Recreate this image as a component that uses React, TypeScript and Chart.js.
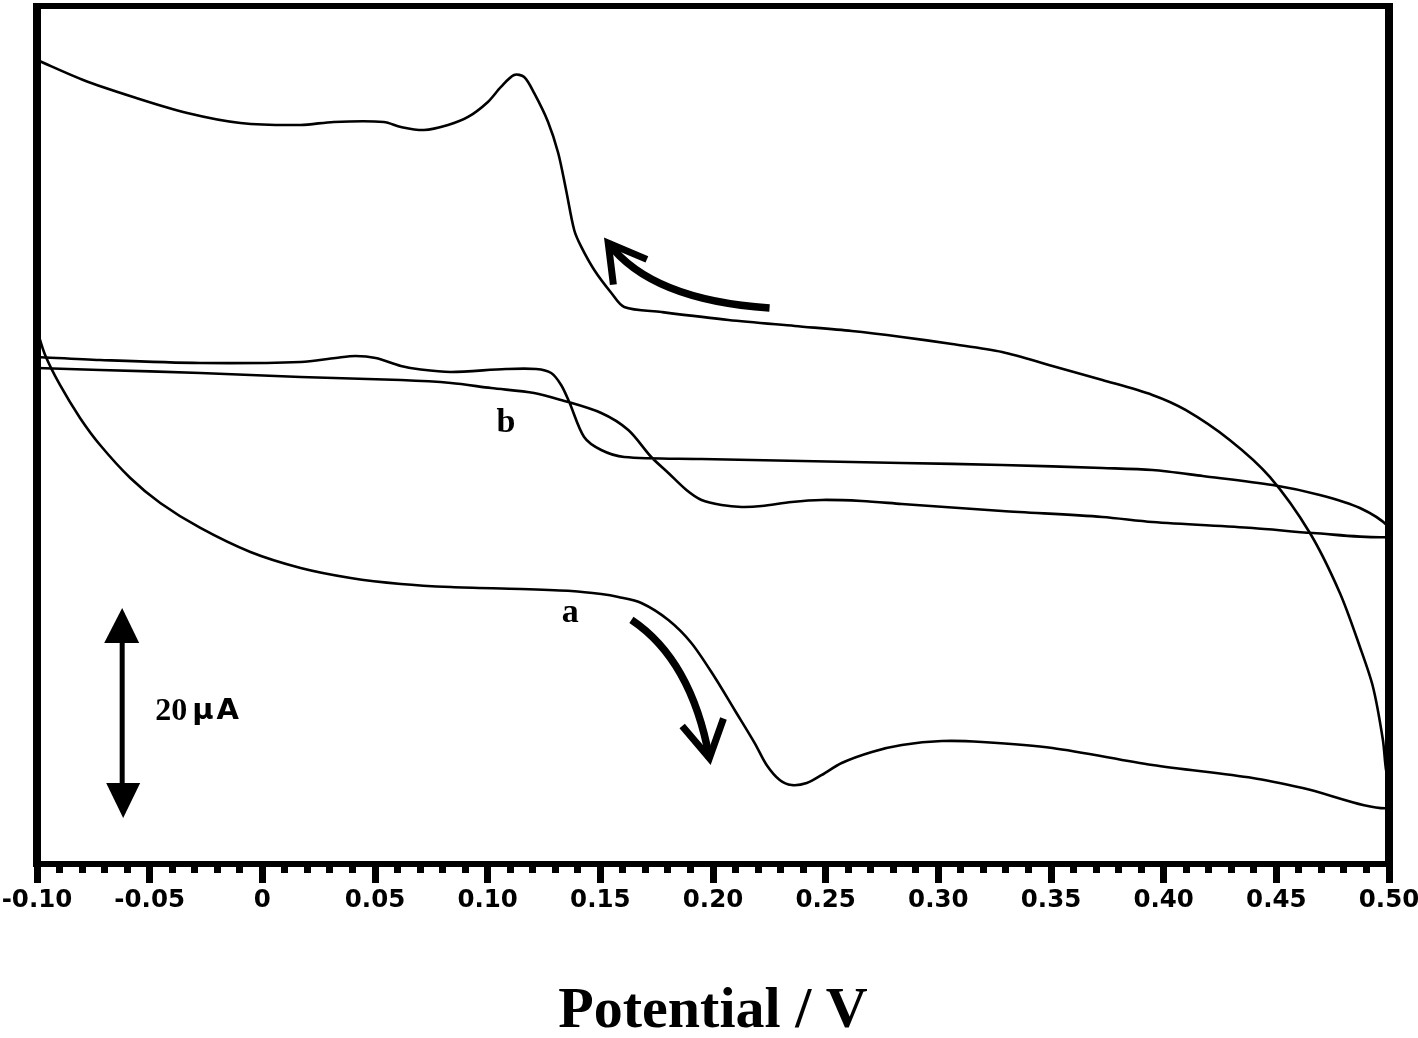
import React, { useEffect, useRef } from 'react';
import { Chart, registerables } from 'chart.js';

Chart.register(...registerables);

// ---- axis definitions ----
const xMin = -0.1;
const xMax = 0.5;
const yMin = -0.19; // µA (arbitrary offset, no y labels in the figure)
const yMax = 81.52;
const tickLabels = ['-0.10', '-0.05', '0', '0.05', '0.10', '0.15', '0.20', '0.25', '0.30', '0.35', '0.40', '0.45', '0.50'];
const axisTitle = 'Potential / V';

// ---- curve a (forward scan then reverse scan) ----
const curveAPotential = [
  -0.100, -0.0964, -0.0898, -0.0809, -0.0720, -0.0586, -0.0453, -0.0275, -0.0053, 0.0170, 0.0392, 0.0615, 0.0837,
  0.1148, 0.1371, 0.1504, 0.1580, 0.1682, 0.1802, 0.1904, 0.2007, 0.2096, 0.2185, 0.2238, 0.2296, 0.2349, 0.2416,
  0.2483, 0.2571, 0.2705, 0.2838, 0.3016, 0.3194, 0.3506, 0.3950, 0.4395, 0.4617, 0.500,
  0.500, 0.4987, 0.4973, 0.4929, 0.4871, 0.4782, 0.4649, 0.4471, 0.4293, 0.4097, 0.3950, 0.3728, 0.3506, 0.3283,
  0.3061, 0.2838, 0.2616, 0.2363, 0.2069, 0.1771, 0.1606, 0.1549, 0.1473, 0.1415, 0.1384, 0.1348, 0.1313, 0.1268, 0.1206,
  0.1162, 0.1117, 0.1059, 0.1001, 0.0913, 0.0824, 0.0717, 0.0615, 0.0539, 0.0317, 0.0170, -0.0097, -0.0333,
  -0.0573, -0.0795, -0.100,
];
const curveACurrent = [
  50.67, 48.29, 45.43, 42.29, 39.71, 36.57, 34.19, 31.81, 29.52, 28.0, 27.05, 26.48, 26.19,
  26.0, 25.81, 25.52, 25.24, 24.67, 23.05, 20.86, 17.62, 14.48, 11.33, 9.24, 7.81, 7.33, 7.52,
  8.29, 9.43, 10.48, 11.14, 11.52, 11.43, 10.86, 9.24, 8.0, 7.05, 5.14,
  8.0, 8.76, 11.62, 16.67, 20.48, 25.62, 31.33, 36.67, 40.19, 43.05, 44.48, 45.90, 47.24, 48.57,
  49.33, 50.0, 50.57, 51.05, 51.62, 52.38, 52.86, 54.19, 56.38, 58.6, 60.19, 64.0, 67.52, 70.48, 73.24,
  74.76, 74.95, 73.81, 72.38, 70.95, 70.19, 69.71, 70.0, 70.48, 70.48, 70.19, 70.38, 71.33,
  72.86, 74.48, 76.38,
];

// ---- curve b (forward scan then reverse scan) ----
const curveBPotential = [
  -0.100, -0.0720, -0.0275, 0.0170, 0.0615, 0.0837, 0.1015, 0.1206, 0.1326, 0.1504, 0.1624, 0.1726, 0.1802, 0.1882,
  0.1949, 0.2038, 0.2127, 0.2216, 0.2349, 0.2483, 0.2660, 0.2838, 0.3283, 0.3728, 0.3950, 0.4395, 0.4662, 0.500,
  0.500, 0.4871, 0.4693, 0.4484, 0.4173, 0.3950, 0.3728, 0.3283, 0.2838, 0.2394, 0.1949, 0.1606, 0.1504, 0.1428,
  0.1362, 0.1326, 0.1282, 0.1215, 0.1081, 0.0837, 0.0703, 0.0615, 0.0503, 0.0414, 0.0325, 0.0170, -0.0275, -0.0720,
  -0.100,
];
const curveBCurrent = [
  47.05, 46.86, 46.57, 46.19, 45.90, 45.62, 45.14, 44.67, 44.0, 42.76, 41.14, 38.57, 37.05, 35.43,
  34.48, 34.0, 33.81, 33.90, 34.29, 34.48, 34.38, 34.10, 33.43, 32.86, 32.38, 31.81, 31.33, 30.95,
  31.90, 33.71, 34.95, 35.90, 36.76, 37.33, 37.52, 37.81, 38.0, 38.19, 38.38, 38.57, 39.24, 40.48,
  43.81, 45.43, 46.57, 46.95, 46.95, 46.67, 46.9, 47.24, 48.0, 48.19, 48.0, 47.62, 47.52, 47.81,
  48.10,
];

// ---- annotations (data coordinates) ----
const curveLabels = [
  { text: 'a', x: 0.1366, y: 22.86 },
  { text: 'b', x: 0.1081, y: 40.95 },
];
const scanArrows = [
  { x0: 0.1638, y0: 23.05, cx: 0.1904, cy: 19.24, x1: 0.1984, y1: 9.9 },
  { x0: 0.2251, y0: 52.76, cx: 0.1726, cy: 53.52, x1: 0.1535, y1: 58.95 },
];
const scaleBar = { x: -0.0622, from: 4.2, to: 24.2, textY: 13.52, value: '20', unit: 'μA' };

const tickValues: number[] = [];
for (let i = 0; i <= 60; i++) tickValues.push(Number((xMin + i * 0.01).toFixed(2)));

const toPoints = (xs: number[], ys: number[]) => xs.map((x, i) => ({ x, y: ys[i] }));

const overlayPlugin = {
  id: 'overlay',
  beforeDraw(chart: any) {
    const ctx = chart.ctx;
    ctx.save();
    ctx.fillStyle = '#ffffff';
    ctx.fillRect(0, 0, chart.width, chart.height);
    ctx.restore();
  },
  afterDraw(chart: any) {
    const { ctx, chartArea, scales } = chart;
    const { left, right, top, bottom } = chartArea;
    const xs = scales.x;
    const ys = scales.y;
    ctx.save();
    ctx.fillStyle = '#000';
    ctx.strokeStyle = '#000';
    // frame
    ctx.fillRect(left - 4, top - 3, right - left + 8, 6);
    ctx.fillRect(left - 4, top - 3, 8, bottom - top + 6);
    ctx.fillRect(right - 4, top - 3, 8, bottom - top + 6);
    ctx.fillRect(left - 4, bottom - 3, right - left + 8, 6);
    // tick marks
    xs.ticks.forEach((t: any) => {
      const px = xs.getPixelForValue(t.value);
      const k = Math.round((t.value - xMin) * 100);
      const major = k % 5 === 0;
      ctx.fillRect(Math.round(px - 3.5), bottom + 3, 7, major ? 16 : 6);
    });

    // scale bar (double arrow)
    const bx = xs.getPixelForValue(scaleBar.x);
    const by0 = ys.getPixelForValue(scaleBar.to);
    const by1 = ys.getPixelForValue(scaleBar.from);
    ctx.lineWidth = 5;
    ctx.beginPath();
    ctx.moveTo(bx, by0 + 30);
    ctx.lineTo(bx, by1 - 30);
    ctx.stroke();
    ctx.beginPath();
    ctx.moveTo(bx, by0);
    ctx.lineTo(bx - 18, by0 + 35);
    ctx.lineTo(bx + 17, by0 + 35);
    ctx.closePath();
    ctx.fill();
    ctx.beginPath();
    ctx.moveTo(bx + 1, by1);
    ctx.lineTo(bx - 16, by1 - 35);
    ctx.lineTo(bx + 18, by1 - 35);
    ctx.closePath();
    ctx.fill();
    const ty = ys.getPixelForValue(scaleBar.textY);
    ctx.textBaseline = 'alphabetic';
    ctx.textAlign = 'left';
    ctx.font = 'bold 32px "Liberation Serif"';
    ctx.fillText(scaleBar.value, bx + 33, ty);
    ctx.font = 'bold 29px "DejaVu Sans"';
    (ctx as any).letterSpacing = '3px';
    ctx.fillText(scaleBar.unit, bx + 70, ty - 1);
    (ctx as any).letterSpacing = '0px';

    // curve labels
    ctx.font = 'bold 34px "Liberation Serif"';
    ctx.textAlign = 'center';
    curveLabels.forEach((l) => {
      ctx.fillText(l.text, xs.getPixelForValue(l.x), ys.getPixelForValue(l.y));
    });

    // scan direction arrows
    scanArrows.forEach((a) => {
      const p0x = xs.getPixelForValue(a.x0), p0y = ys.getPixelForValue(a.y0);
      const pcx = xs.getPixelForValue(a.cx), pcy = ys.getPixelForValue(a.cy);
      const p1x = xs.getPixelForValue(a.x1), p1y = ys.getPixelForValue(a.y1);
      ctx.lineWidth = 7.5;
      ctx.lineCap = 'butt';
      ctx.beginPath();
      ctx.moveTo(p0x, p0y);
      ctx.quadraticCurveTo(pcx, pcy, p1x, p1y);
      ctx.stroke();
      const ang = Math.atan2(p1y - pcy, p1x - pcx) + Math.PI;
      const th = Math.PI / 6;
      const L = 42;
      ctx.lineWidth = 7;
      ctx.lineJoin = 'miter';
      ctx.beginPath();
      ctx.moveTo(p1x + L * Math.cos(ang - th), p1y + L * Math.sin(ang - th));
      ctx.lineTo(p1x, p1y);
      ctx.lineTo(p1x + L * Math.cos(ang + th), p1y + L * Math.sin(ang + th));
      ctx.stroke();
    });
    ctx.restore();
  },
};

export default function App() {
  const canvasRef = useRef<HTMLCanvasElement | null>(null);

  useEffect(() => {
    document.body.style.margin = '0';
    const canvas = canvasRef.current;
    if (!canvas) return;
    const lineStyle = {
      borderColor: '#000',
      borderWidth: 2.6,
      pointRadius: 0,
      tension: 0.3,
      fill: false,
    };
    const chart = new Chart(canvas, {
      type: 'line',
      data: {
        datasets: [
          { label: 'a', data: toPoints(curveAPotential, curveACurrent), ...lineStyle },
          { label: 'b', data: toPoints(curveBPotential, curveBCurrent), ...lineStyle },
        ],
      },
      options: {
        responsive: false,
        animation: false,
        devicePixelRatio: 1,
        events: [],
        layout: { padding: { left: 37, right: 29, top: 6, bottom: 0 }, autoPadding: false },
        plugins: {
          legend: { display: false },
          tooltip: { enabled: false },
          title: { display: false },
        },
        scales: {
          x: {
            type: 'linear',
            min: xMin,
            max: xMax,
            afterBuildTicks: (scale: any) => {
              scale.ticks = tickValues.map((v) => ({ value: v }));
            },
            afterFit: (scale: any) => {
              scale.paddingLeft = 0;
              scale.paddingRight = 0;
            },
            ticks: {
              autoSkip: false,
              maxRotation: 0,
              minRotation: 0,
              padding: 2,
              color: '#000',
              font: { family: '"DejaVu Sans"', size: 24.5, weight: 'bold' },
              callback: (v: any) => {
                const k = Math.round((Number(v) - xMin) * 100);
                return k % 5 === 0 ? tickLabels[k / 5] : '';
              },
            },
            grid: {
              display: true,
              drawOnChartArea: false,
              drawTicks: true,
              tickLength: 20,
              color: 'rgba(0,0,0,0)',
              tickColor: 'rgba(0,0,0,0)',
            },
            border: { display: false },
            title: {
              display: true,
              text: axisTitle,
              color: '#000',
              font: { family: '"Liberation Serif"', size: 58, weight: 'bold', lineHeight: 0.9 },
              padding: { top: 68.4, bottom: 0 },
            },
          },
          y: { type: 'linear', display: false, min: yMin, max: yMax },
        },
      } as any,
      plugins: [overlayPlugin],
    });
    return () => chart.destroy();
  }, []);

  return (
    <div style={{ position: 'relative', width: 1418, height: 1038 }}>
      <canvas ref={canvasRef} width={1418} height={1038} style={{ display: 'block', width: 1418, height: 1038 }} />
    </div>
  );
}
